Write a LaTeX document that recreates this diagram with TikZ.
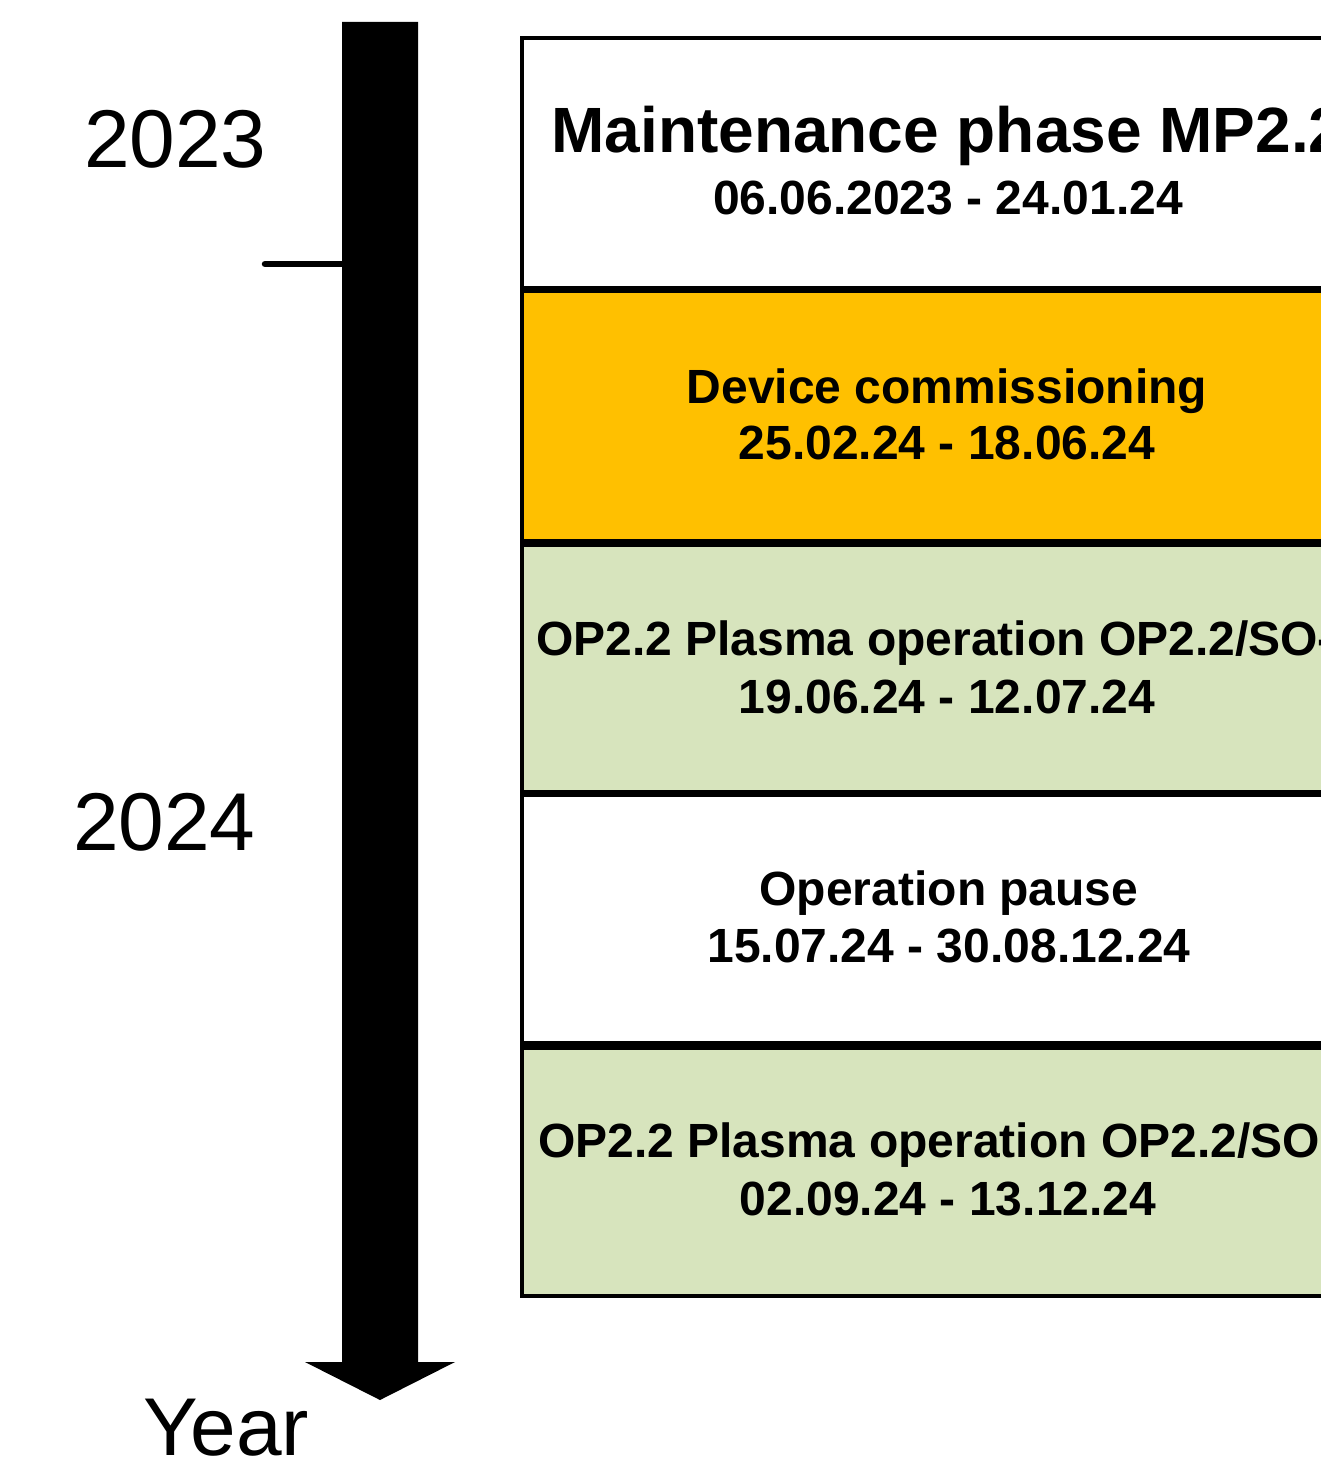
\documentclass[tikz,border=0pt]{standalone}
\usepackage{fontspec}
\setmainfont{Liberation Sans}
\definecolor{phaseorange}{HTML}{FFC000}
\definecolor{phasegreen}{HTML}{D7E4BD}
\begin{document}
\begin{tikzpicture}[x=1pt,y=-1pt,
  phasebox/.style={draw=black, line width=4.8pt, minimum width=851pt, inner sep=0pt, outer sep=0pt},
  titletxt/.style={font=\fontsize{64}{70}\selectfont\bfseries, inner sep=0pt},
  linetxt/.style={font=\fontsize{48}{54}\selectfont\bfseries, inner sep=0pt},
  yeartxt/.style={font=\fontsize{82}{88}\selectfont, inner sep=0pt, anchor=base west}]
\useasboundingbox (0,0) rectangle (1321,1463);
\clip (0,0) rectangle (1321,1463);
% time arrow
\fill[black] (342,22) -- (418,22) -- (418,1362) -- (455,1362) -- (380,1400) -- (305,1362) -- (342,1362) -- cycle;
\coordinate (tickL) at (265,264);
\coordinate (tickR) at (344,264);
\draw[line width=6.5pt, line cap=round] (tickL) -- (tickR);
% year labels
\node[yeartxt] (y2023) at (84,168) {2023};
\node[yeartxt] (y2024) at (73,850) {2024};
\node[yeartxt] (yyear) at (143,1455) {Year};
% boxes (top/bottom border centre lines: 38/288, 290.5/541, 545/792.5, 794.5/1043, 1047.5/1296)
\node[phasebox, fill=white, minimum height=250pt] (b1) at (947.5,163) {};
\node[phasebox, fill=phaseorange, minimum height=250.5pt] (b2) at (947.5,415.75) {};
\node[phasebox, fill=phasegreen, minimum height=247.5pt] (b3) at (947.5,668.75) {};
\node[phasebox, fill=white, minimum height=248.5pt] (b4) at (947.5,918.75) {};
\node[phasebox, fill=phasegreen, minimum height=248.5pt] (b5) at (947.5,1171.75) {};
% texts
\node[titletxt, anchor=base] (t1a) at (948,153) {Maintenance phase MP2.2};
\node[linetxt, anchor=base] (t1b) at (948,215) {06.06.2023 - 24.01.24};
\node[linetxt, anchor=base] (t2a) at (947,403) {Device commissioning};
\node[linetxt, anchor=base] (t2b) at (947,459) {25.02.24 - 18.06.24};
\node[linetxt, anchor=base west] (t3a) at (536,655) {OP2.2 Plasma operation OP2.2/SO-};
\node[linetxt, anchor=base] (t3b) at (947,713) {19.06.24 - 12.07.24};
\node[linetxt, anchor=base] (t4a) at (949,905) {Operation pause};
\node[linetxt, anchor=base] (t4b) at (949,962) {15.07.24 - 30.08.12.24};
\node[linetxt, anchor=base west] (t5a) at (538,1157) {OP2.2 Plasma operation OP2.2/SO};
\node[linetxt, anchor=base] (t5b) at (948,1215) {02.09.24 - 13.12.24};
\end{tikzpicture}
\end{document}
